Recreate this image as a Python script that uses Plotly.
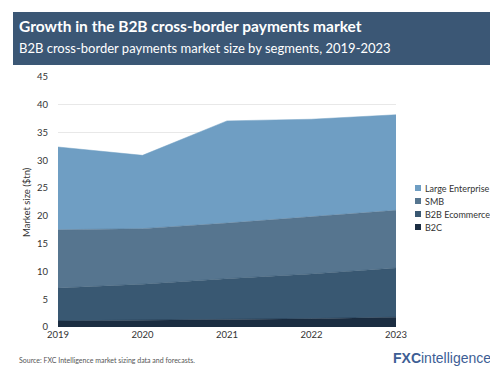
import plotly.graph_objects as go

years = [2019, 2020, 2021, 2022, 2023]
b2c = [1.1, 1.2, 1.4, 1.5, 1.75]
b2b_ecommerce = [5.9, 6.5, 7.3, 8.05, 8.85]
smb = [10.5, 10.0, 10.0, 10.25, 10.4]
large_enterprise = [14.9, 13.2, 18.4, 17.6, 17.2]

series = [
    ("B2C", b2c, "#1b2d41"),
    ("B2B Ecommerce", b2b_ecommerce, "#395872"),
    ("SMB", smb, "#56758f"),
    ("Large Enterprise", large_enterprise, "#6f9ec3"),
]

FONT = "Lato, 'Open Sans', sans-serif"

fig = go.Figure()
for name, vals, col in series:
    fig.add_trace(go.Scatter(
        x=years, y=vals, name=name, stackgroup="one", mode="lines",
        line=dict(width=0.5, color=col), fillcolor=col, showlegend=False,
    ))

L, R, T, B = 50, 388, 69, 319
W, H = 498, 367
def px(x):
    return (x - L) / (R - L)
def py(y):
    return (B - y) / (B - T)

shapes = [
    dict(type="rect", xref="paper", yref="paper",
         x0=px(5), x1=px(483), y0=py(57), y1=py(4),
         fillcolor="#3b5775", line=dict(width=0), layer="below"),
]
annotations = [
    dict(text="<b>Growth in the B2B cross-border payments market</b>",
         xref="paper", yref="paper", x=px(9), y=py(18),
         xanchor="left", yanchor="middle", showarrow=False,
         font=dict(family=FONT, size=15.5, color="white")),
    dict(text="B2B cross-border payments market size by segments, 2019-2023",
         xref="paper", yref="paper", x=px(9), y=py(40),
         xanchor="left", yanchor="middle", showarrow=False,
         font=dict(family=FONT, size=13, color="white")),
    dict(text="Source: FXC Intelligence market sizing data and forecasts.",
         xref="paper", yref="paper", x=px(9), y=py(352),
         xanchor="left", yanchor="middle", showarrow=False,
         font=dict(family=FONT, size=7, color="#555555")),
    dict(text="<b>FXC</b>intelligence",
         xref="paper", yref="paper", x=px(485), y=py(350),
         xanchor="right", yanchor="middle", showarrow=False,
         font=dict(family="Liberation Sans, Arial, sans-serif", size=14, color="#3d5e95")),
    dict(text="Market size ($tn)", textangle=-90,
         xref="paper", yref="paper", x=px(18), y=py(194),
         xanchor="center", yanchor="middle", showarrow=False,
         font=dict(family=FONT, size=9.5, color="#333333")),
]

# manual legend (top to bottom)
leg_y = [180, 193, 206, 219]
for (name, vals, col), yy in zip(reversed(series), leg_y):
    shapes.append(dict(type="rect", xref="paper", yref="paper",
                       x0=px(407), x1=px(413), y0=py(yy + 3), y1=py(yy - 3),
                       fillcolor=col, line=dict(width=0)))
    annotations.append(dict(text=name, xref="paper", yref="paper",
                            x=px(415), y=py(yy), xanchor="left", yanchor="middle",
                            showarrow=False,
                            font=dict(family=FONT, size=9, color="#333333")))

fig.update_layout(
    width=W, height=H,
    margin=dict(l=L, r=W - R, t=T, b=H - B, autoexpand=False),
    paper_bgcolor="white", plot_bgcolor="white",
    font=dict(family=FONT, size=10, color="#333333"),
    showlegend=False,
    xaxis=dict(
        range=[2019, 2023], tickvals=years, ticktext=[str(y) for y in years],
        showgrid=False, zeroline=False, showline=False, ticks="",
        tickfont=dict(size=9.5, color="#333333"),
    ),
    yaxis=dict(
        range=[0, 45], dtick=5, showgrid=True, gridcolor="#e8e8e8", gridwidth=1,
        zeroline=False, showline=False, ticks="", ticklabelstandoff=9,
        tickfont=dict(size=9.5, color="#333333"),
    ),
    shapes=shapes,
    annotations=annotations,
)

fig.write_html("out.html")
